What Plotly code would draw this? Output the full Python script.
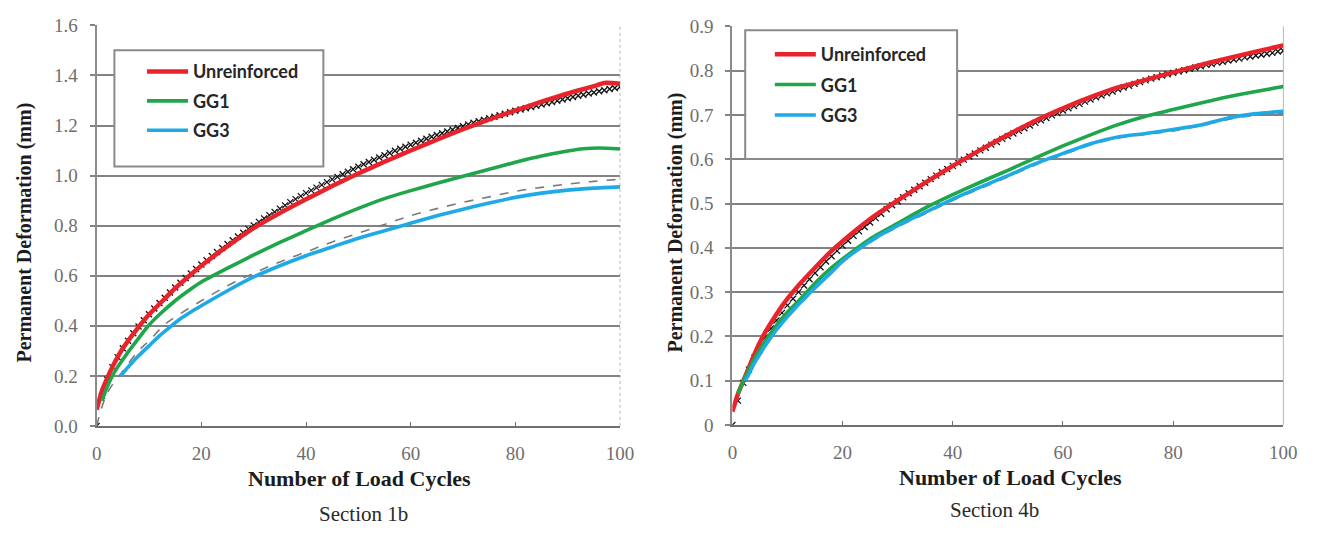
import plotly.graph_objects as go

# ---------------- Section 1b (left) ----------------
x_red_l = [0, 1, 2, 3, 4, 5, 6, 8, 10, 12, 15, 18, 20, 25, 30, 35, 40, 45, 50, 55, 60, 65, 70, 75, 80, 85, 90, 95, 97, 100]
red_l = [0.065, 0.14, 0.19, 0.235, 0.275, 0.31, 0.34, 0.395, 0.445, 0.487, 0.55, 0.605, 0.64, 0.718, 0.79, 0.85, 0.905, 0.958, 1.008, 1.055, 1.10, 1.143, 1.185, 1.224, 1.26, 1.295, 1.328, 1.357, 1.37, 1.367]

x_green_l = [1, 2, 3, 4, 5, 6, 8, 10, 12, 15, 18, 20, 25, 30, 35, 40, 45, 50, 55, 60, 65, 70, 75, 80, 85, 90, 93, 96, 100]
green_l = [0.10, 0.155, 0.20, 0.235, 0.265, 0.295, 0.35, 0.403, 0.445, 0.50, 0.547, 0.575, 0.63, 0.683, 0.733, 0.78, 0.826, 0.869, 0.908, 0.94, 0.969, 0.997, 1.025, 1.053, 1.078, 1.098, 1.107, 1.11, 1.106]

x_blue_l = [4.5, 5, 6, 8, 10, 12, 14, 16, 18, 20, 25, 30, 35, 40, 45, 50, 55, 60, 65, 70, 75, 80, 85, 90, 95, 100]
blue_l = [0.20, 0.21, 0.235, 0.28, 0.32, 0.36, 0.395, 0.428, 0.455, 0.48, 0.54, 0.595, 0.64, 0.68, 0.715, 0.75, 0.78, 0.81, 0.84, 0.866, 0.89, 0.913, 0.93, 0.942, 0.95, 0.955]

x_dash_l = [0, 2, 5, 8, 10, 13, 15, 20, 25, 30, 35, 40, 45, 50, 55, 60, 65, 70, 75, 80, 85, 90, 95, 100]
dash_l = [0.0, 0.13, 0.22, 0.30, 0.34, 0.405, 0.435, 0.50, 0.56, 0.61, 0.655, 0.695, 0.735, 0.77, 0.805, 0.84, 0.868, 0.893, 0.915, 0.937, 0.953, 0.966, 0.977, 0.985]

x_fit = list(range(0, 101))
fit_l = [0.0, 0.12, 0.185, 0.235, 0.275, 0.31, 0.34, 0.37, 0.397, 0.422,
         0.446, 0.469, 0.491, 0.512, 0.533, 0.553, 0.572, 0.591, 0.609, 0.627,
         0.645, 0.662, 0.679, 0.695, 0.711, 0.727, 0.742, 0.757, 0.772, 0.787,
         0.801, 0.815, 0.829, 0.842, 0.855, 0.868, 0.881, 0.894, 0.906, 0.918,
         0.93, 0.941, 0.952, 0.963, 0.974, 0.985, 0.995, 1.005, 1.015, 1.025,
         1.035, 1.045, 1.054, 1.063, 1.072, 1.081, 1.09, 1.099, 1.107, 1.115,
         1.123, 1.131, 1.139, 1.147, 1.155, 1.162, 1.169, 1.176, 1.183, 1.19,
         1.197, 1.204, 1.211, 1.217, 1.223, 1.229, 1.235, 1.241, 1.247, 1.253,
         1.259, 1.264, 1.269, 1.274, 1.279, 1.284, 1.289, 1.294, 1.299, 1.304,
         1.309, 1.314, 1.319, 1.323, 1.328, 1.332, 1.337, 1.341, 1.346, 1.35,
         1.355]

# ---------------- Section 4b (right) ----------------
x_red_r = [0, 1, 2, 3, 4, 5, 6, 8, 10, 12, 15, 18, 20, 25, 30, 35, 40, 45, 50, 55, 60, 65, 70, 75, 80, 85, 90, 95, 100]
red_r = [0.03, 0.07, 0.10, 0.13, 0.16, 0.187, 0.21, 0.25, 0.285, 0.315, 0.355, 0.393, 0.415, 0.465, 0.507, 0.547, 0.585, 0.621, 0.655, 0.687, 0.715, 0.74, 0.762, 0.779, 0.796, 0.813, 0.828, 0.843, 0.857]

x_green_r = [1, 2, 3, 4, 5, 6, 8, 10, 12, 15, 18, 20, 25, 30, 35, 40, 45, 50, 55, 60, 65, 70, 75, 80, 85, 90, 95, 100]
green_r = [0.07, 0.10, 0.125, 0.15, 0.17, 0.19, 0.225, 0.255, 0.28, 0.32, 0.355, 0.375, 0.42, 0.455, 0.49, 0.52, 0.548, 0.575, 0.603, 0.63, 0.655, 0.678, 0.697, 0.712, 0.727, 0.741, 0.753, 0.764]

x_blue_r = [2.3, 3, 4, 5, 6, 8, 10, 12, 15, 18, 20, 25, 30, 35, 40, 45, 50, 55, 60, 65, 70, 75, 80, 85, 90, 95, 100]
blue_r = [0.10, 0.115, 0.14, 0.16, 0.18, 0.215, 0.245, 0.272, 0.31, 0.345, 0.37, 0.415, 0.45, 0.48, 0.51, 0.537, 0.563, 0.59, 0.613, 0.635, 0.65, 0.658, 0.667, 0.677, 0.693, 0.703, 0.708]

x_dash_r = [3, 5, 8, 10, 15, 20, 25, 30, 35, 40, 45, 50, 55, 60, 65, 70, 75, 80, 85, 90, 95, 100]
dash_r = [0.115, 0.158, 0.212, 0.242, 0.307, 0.367, 0.412, 0.447, 0.477, 0.507, 0.534, 0.56, 0.587, 0.61, 0.632, 0.648, 0.656, 0.664, 0.675, 0.69, 0.699, 0.703]

fit_r = [0.0, 0.055, 0.095, 0.125, 0.152, 0.177, 0.198, 0.218, 0.236, 0.253,
         0.27, 0.285, 0.3, 0.315, 0.329, 0.343, 0.356, 0.369, 0.381, 0.393,
         0.405, 0.416, 0.427, 0.437, 0.447, 0.457, 0.467, 0.477, 0.487, 0.496,
         0.505, 0.514, 0.523, 0.531, 0.539, 0.547, 0.555, 0.563, 0.571, 0.578,
         0.585, 0.592, 0.599, 0.606, 0.613, 0.62, 0.626, 0.633, 0.639, 0.646,
         0.652, 0.658, 0.664, 0.67, 0.676, 0.682, 0.688, 0.693, 0.699, 0.704,
         0.71, 0.715, 0.72, 0.725, 0.73, 0.735, 0.74, 0.744, 0.749, 0.753,
         0.758, 0.762, 0.766, 0.77, 0.774, 0.778, 0.782, 0.785, 0.789, 0.792,
         0.795, 0.798, 0.801, 0.804, 0.807, 0.81, 0.813, 0.815, 0.818, 0.82,
         0.823, 0.825, 0.827, 0.83, 0.832, 0.834, 0.836, 0.838, 0.84, 0.843,
         0.845]

series_names = ["Unreinforced", "GG1", "GG3"]
x_ticks = [0, 20, 40, 60, 80, 100]

RED = "#e8232b"
GREEN = "#1fa64a"
BLUE = "#1daae6"
W = 1321
H = 533

fig = go.Figure()


def add_panel(xa, ya, legend, xr, yr, xg, yg, xb, yb, xd, yd, xf, yf):
    fig.add_trace(go.Scatter(x=xf, y=yf, mode="markers", xaxis=xa, yaxis=ya,
                             marker=dict(symbol="x-thin", size=6, color="black",
                                         line=dict(color="#111111", width=1.3)),
                             showlegend=False, hoverinfo="skip"))
    fig.add_trace(go.Scatter(x=xd, y=yd, mode="lines", xaxis=xa, yaxis=ya,
                             line=dict(color="#7a7a7a", width=1.6, dash="dash", shape="spline"),
                             showlegend=False, hoverinfo="skip"))
    for xs, ys, col, nm, wd in [(xr, yr, RED, series_names[0], 4.5),
                                (xg, yg, GREEN, series_names[1], 3.6),
                                (xb, yb, BLUE, series_names[2], 3.6)]:
        fig.add_trace(go.Scatter(x=xs, y=ys, mode="lines", name=nm, xaxis=xa, yaxis=ya,
                                 legend=legend, legendgroup=legend + nm,
                                 line=dict(color=col, width=wd, shape="spline", smoothing=0.6)))


add_panel("x", "y", "legend", x_red_l, red_l, x_green_l, green_l, x_blue_l, blue_l,
          x_dash_l, dash_l, x_fit, fit_l)
add_panel("x2", "y2", "legend2", x_red_r, red_r, x_green_r, green_r, x_blue_r, blue_r,
          x_dash_r, dash_r, x_fit, fit_r)

tick_font = dict(family="Liberation Serif", size=19, color="#6e6e6e")
grid = dict(showgrid=True, gridcolor="#838383", gridwidth=2)

xcommon = dict(range=[0, 100], tickvals=x_ticks, showgrid=False, zeroline=False,
               showline=True, linecolor="#6f6f6f", linewidth=2,
               ticks="inside", ticklen=4, tickcolor="#6f6f6f", tickwidth=1,
               tickfont=tick_font, ticklabelstandoff=9, fixedrange=True)
ycommon = dict(zeroline=False, showline=True, linecolor="#8a8a8a", linewidth=2,
               ticks="outside", ticklen=5, tickcolor="#838383", tickwidth=2,
               tickfont=tick_font, ticklabelstandoff=8, fixedrange=True, **grid)

yb0 = (H - 433) / H
yt0 = (H - 16) / H
yb1 = (H - 432) / H
yt1 = (H - 17) / H

fig.update_layout(
    width=W, height=H,
    margin=dict(l=0, r=0, t=0, b=0),
    paper_bgcolor="white", plot_bgcolor="white",
    xaxis=dict(domain=[93 / W, 624 / W], anchor="y", **xcommon),
    yaxis=dict(domain=[yb0, yt0], anchor="x", range=[0, 1.6], dtick=0.2, tick0=0,
               tickformat=".1f", **ycommon),
    xaxis2=dict(domain=[738 / W, 1297 / W], anchor="y2", **xcommon),
    yaxis2=dict(domain=[yb1, yt1], anchor="x2", range=[0, 0.9], dtick=0.1, tick0=0,
                **ycommon),
    legend=dict(x=139 / W, y=(H - 45) / H, xanchor="left", yanchor="top",
                bgcolor="rgba(0,0,0,0)", borderwidth=0, itemwidth=41,
                tracegroupgap=3, traceorder="grouped",
                font=dict(family="Lato", size=18, color="#262626", weight="bold")),
    legend2=dict(x=776 / W, y=(H - 27) / H, xanchor="left", yanchor="top",
                 bgcolor="rgba(0,0,0,0)", borderwidth=0, itemwidth=41,
                 tracegroupgap=4, traceorder="grouped",
                 font=dict(family="Lato", size=18, color="#262626", weight="bold")),
    showlegend=True,
)

# legend frames and light plot borders
shapes = [
    dict(type="rect", xref="paper", yref="paper", x0=111 / W, x1=323 / W,
         y0=(H - 163) / H, y1=(H - 42) / H, line=dict(color="#8a8a8a", width=2),
         fillcolor="white", layer="above"),
    dict(type="rect", xref="paper", yref="paper", x0=751 / W, x1=966 / W,
         y0=(H - 155) / H, y1=(H - 21) / H, line=dict(color="#8a8a8a", width=2),
         fillcolor="white", layer="above"),
    dict(type="line", xref="x domain", yref="y domain", x0=1, x1=1, y0=0, y1=1,
         line=dict(color="#b5b5b5", width=1, dash="dot"), layer="below"),
    dict(type="line", xref="x2 domain", yref="y2 domain", x0=1, x1=1, y0=0, y1=1,
         line=dict(color="#b5b5b5", width=1), layer="below"),
]
fig.update_layout(shapes=shapes)

title_font = dict(family="Liberation Serif", size=22, color="#1c1c1c", weight="bold")
ytitle_font = dict(family="Liberation Serif", size=20, color="#1c1c1c", weight="bold")
cap_font = dict(family="Liberation Serif", size=21, color="#2a2a2a")

annotations = [
    dict(text="Number of Load Cycles", x=360 / W, y=(H - 488) / H, font=title_font),
    dict(text="Number of Load Cycles", x=1020 / W, y=(H - 487) / H, font=title_font),
    dict(text="Section 1b", x=364 / W, y=(H - 525) / H, font=cap_font),
    dict(text="Section 4b", x=1004 / W, y=(H - 521) / H, font=cap_font),
    dict(text="Permanent Deformation (mm)", x=20 / W, y=(H - 232) / H, textangle=-90,
         font=ytitle_font),
    dict(text="Permanent Deformation (mm)", x=680 / W, y=(H - 221) / H, textangle=-90,
         font=ytitle_font),
]
for a in annotations:
    a.update(xref="paper", yref="paper", showarrow=False, xanchor="center", yanchor="middle")
fig.update_layout(annotations=annotations)

fig.write_html("out.html", config={"displayModeBar": False},
               post_script="document.body.style.margin='0';document.body.style.overflow='hidden';")
